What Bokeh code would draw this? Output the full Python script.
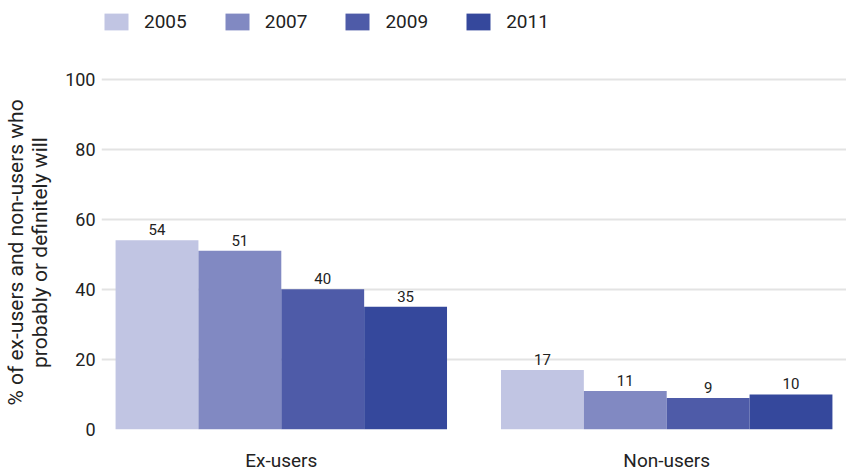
from bokeh.plotting import figure
from bokeh.models import ColumnDataSource, FactorRange, Legend, LegendItem, FixedTicker, LabelSet
from bokeh.layouts import column
from bokeh.transform import dodge
from bokeh.core.properties import value
from bokeh.embed import file_html
from bokeh.resources import INLINE

categories = ["Ex-users", "Non-users"]
years = ["2005", "2007", "2009", "2011"]
v2005 = [54, 17]
v2007 = [51, 11]
v2009 = [40, 9]
v2011 = [35, 10]
colors = ["#c1c5e3", "#8189c2", "#4e5ba8", "#35489c"]
y_ticks = [0, 20, 40, 60, 80, 100]

series = [v2005, v2007, v2009, v2011]
data = {"cat": categories}
for yr, vals in zip(years, series):
    data["y" + yr] = vals
    data["t" + yr] = [str(v) for v in vals]
src = ColumnDataSource(data)

FONT = "Roboto"
LEG_H = 45

# ---- main chart ----
p = figure(x_range=FactorRange(factors=categories, range_padding=-0.0335, range_padding_units="percent"),
           y_range=(0, 101), width=846, height=474 - LEG_H, output_backend="svg", toolbar_location=None,
           min_border_left=101, min_border_right=0, min_border_top=30, min_border_bottom=42)
p.outline_line_color = None
p.background_fill_color = "white"

bw = 0.215
offsets = [-1.5 * bw, -0.5 * bw, 0.5 * bw, 1.5 * bw]
for yr, c, off in zip(years, colors, offsets):
    p.vbar(x=dodge("cat", off, range=p.x_range), top="y" + yr, width=bw, source=src,
           fill_color=c, line_color=None)
    lbl = LabelSet(x=dodge("cat", off, range=p.x_range), y="y" + yr, text="t" + yr, source=src,
                   text_align="center", text_baseline="bottom", y_offset=5,
                   text_font=value(FONT), text_font_size="15px", text_color="#222222")
    p.add_layout(lbl)

p.yaxis.ticker = FixedTicker(ticks=y_ticks)
p.yaxis.axis_line_color = None
p.yaxis.major_tick_line_color = None
p.yaxis.major_tick_out = 0
p.yaxis.major_tick_in = 0
p.yaxis.minor_tick_line_color = None
p.yaxis.major_label_standoff = 6
p.yaxis.major_label_text_font = FONT
p.yaxis.major_label_text_font_size = "18px"
p.yaxis.major_label_text_color = "#222222"
p.yaxis.axis_label = "% of ex-users and non-users who\nprobably or definitely will"
p.yaxis.axis_label_text_font = FONT
p.yaxis.axis_label_text_font_size = "21px"
p.yaxis.axis_label_text_font_style = "normal"
p.yaxis.axis_label_text_color = "#222222"
p.yaxis.axis_label_text_line_height = 1.0
p.yaxis.axis_label_standoff = 10

p.xaxis.axis_line_color = None
p.xaxis.major_tick_line_color = None
p.xaxis.major_tick_out = 0
p.xaxis.major_tick_in = 0
p.xaxis.minor_tick_line_color = None
p.xaxis.major_label_text_font = FONT
p.xaxis.major_label_text_font_size = "19px"
p.xaxis.major_label_text_color = "#222222"
p.xaxis.major_label_standoff = 19

p.xgrid.grid_line_color = None
p.ygrid.grid_line_color = "#e3e3e3"
p.ygrid.grid_line_width = 2

# ---- legend strip ----
lg = figure(x_range=FactorRange(factors=categories), y_range=(0, 1), width=846, height=LEG_H,
            output_backend="svg", toolbar_location=None, x_axis_location=None, y_axis_location=None,
            min_border_left=0, min_border_right=0, min_border_top=0, min_border_bottom=0)
lg.grid.grid_line_color = None
lg.outline_line_color = None
items = []
for yr, c in zip(years, colors):
    r = lg.vbar(x="cat", top="y" + yr, width=0.2, source=src, fill_color=c, line_color=None, visible=False)
    items.append(LegendItem(label=yr, renderers=[r]))
legend = Legend(items=items, orientation="horizontal", location=(0, 12),
                label_text_font=FONT, label_text_font_size="19px", label_text_color="#222222",
                glyph_width=30, glyph_height=21, spacing=35, label_standoff=13,
                border_line_color=None, background_fill_alpha=0, padding=0, margin=0)
lg.add_layout(legend, "center")

layout = column(lg, p, spacing=0)
open("out.html", "w").write(file_html(layout, INLINE))
